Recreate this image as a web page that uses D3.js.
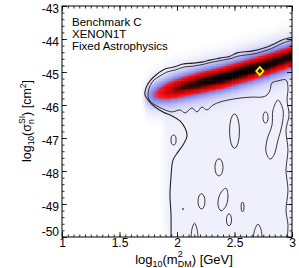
<!DOCTYPE html>
<html>
<head>
<meta charset="utf-8">
<script src="https://cdn.jsdelivr.net/npm/d3@7"></script>
<style>
body { margin: 0; background: #fff; }
svg text { font-family: "Liberation Sans", Arial, sans-serif; fill: #000; }
</style>
</head>
<body>
<svg id="chart" width="299" height="268"></svg>
<script>
// ridge of the posterior band (log10 m, log10 sigma)
var ridgeMass   = [1.70, 1.75, 1.80, 1.90, 2.00, 2.20, 2.40, 2.60, 2.80, 3.00];
var ridgeCentre = [-45.74, -45.72, -45.68, -45.58, -45.48, -45.31, -45.15, -44.95, -44.74, -44.51];
var ridgePeak   = [0, 0.22, 0.40, 0.62, 0.80, 0.95, 1.00, 1.00, 0.97, 0.93];
// faint plateau below the band
var floorMass  = [1.85, 1.93, 3.00];
var floorLevel = [0, 0.03, 0.03];

// benchmark point
var benchmark = [2.72, -44.97];

// outer contour
var outerContour = [[1.948,-50.05],[1.948,-49.33],[1.939,-48.73],[1.948,-48.18],[1.965,-47.67],[2.009,-47.42],
  [2.052,-47.21],[2.087,-46.94],[2.070,-46.70],[2.026,-46.48],[1.957,-46.33],[1.878,-46.21],[1.809,-46.06],
  [1.757,-45.88],[1.722,-45.70],[1.730,-45.48],[1.765,-45.27],[1.817,-45.09],[1.896,-44.91],[1.974,-44.85],
  [2.052,-44.76],[2.139,-44.73],[2.217,-44.70],[2.287,-44.64],[2.374,-44.58],[2.461,-44.52],[2.522,-44.42],
  [2.661,-44.36],[2.783,-44.24],[2.843,-44.15],[2.913,-44.03],[3.01,-43.94]];
// inner contour
var innerContour = [[3.01,-44.03],[2.922,-44.12],[2.852,-44.24],[2.791,-44.33],[2.670,-44.45],[2.530,-44.52],
  [2.470,-44.59],[2.383,-44.65],[2.296,-44.71],[2.226,-44.77],[2.148,-44.82],[2.061,-44.85],[1.983,-44.94],
  [1.913,-45.00],[1.852,-45.12],[1.800,-45.24],[1.765,-45.42],[1.748,-45.70],[1.765,-45.88],[1.826,-46.03],
  [1.896,-46.15],[1.957,-46.21],[2.026,-46.15],[2.070,-46.24],[2.130,-46.09],[2.174,-46.21],[2.217,-46.06],
  [2.261,-46.15],[2.313,-46.00],[2.374,-45.91],[2.443,-45.85],[2.548,-45.79],[2.652,-45.76],[2.739,-45.76],
  [2.783,-45.70],[2.809,-45.55],[2.826,-45.33],[2.878,-45.27],[2.948,-45.24],[2.965,-45.48],[2.957,-45.85],
  [2.974,-46.30],[2.948,-46.76],[2.965,-47.36],[2.948,-47.97],[2.965,-48.58],[2.948,-49.18],[2.965,-49.64],
  [2.957,-50.05]];
// small closed islands: centre mass, centre sigma, half width, half height
var islands = [[1.970,-47.06,0.022,0.15],[2.500,-46.79,0.043,0.52],[2.365,-47.89,0.035,0.26],
  [2.770,-46.38,0.022,0.17],[2.213,-48.92,0.030,0.23],[2.570,-49.09,0.013,0.15],[2.452,-49.48,0.022,0.18],
  [2.052,-49.15,0.004,0.02]];
var islandShapes = [
  [[2.878,-45.85],[2.922,-46.15],[2.913,-46.61],[2.878,-47.06],[2.843,-47.52],[2.809,-47.64],[2.774,-47.42],[2.783,-47.06],[2.826,-46.61],[2.835,-46.15]],
  [[2.426,-48.52],[2.443,-48.76],[2.426,-49.06],[2.383,-49.21],[2.357,-49.03],[2.374,-48.70]]
];
var arches = [
  [[2.122,-50.05],[2.130,-49.76],[2.152,-49.58],[2.174,-49.76],[2.183,-50.05]],
  [[2.661,-50.05],[2.678,-49.76],[2.704,-49.61],[2.730,-49.76],[2.739,-50.05]]
];

var xTicks = [1, 1.5, 2, 2.5, 3];
var yTicks = [-50, -49, -48, -47, -46, -45, -44, -43];
var notes = ["Benchmark C", "XENON1T", "Fixed Astrophysics"];

var margin = {top: 6, right: 7, bottom: 31, left: 62};
var w = 299 - margin.left - margin.right;
var h = 268 - margin.top - margin.bottom;

var svg = d3.select("#chart");
var g = svg.append("g").attr("transform", "translate(" + margin.left + "," + margin.top + ")");

var x = d3.scaleLinear().domain([1, 3]).range([0, w]);
var y = d3.scaleLinear().domain([-50, -43]).range([h, 0]);

svg.append("defs").append("clipPath").attr("id", "plotclip")
  .append("rect").attr("width", w).attr("height", h);

var plot = g.append("g").attr("clip-path", "url(#plotclip)");

// scales for the ridge
var centreAt = d3.scaleLinear().domain(ridgeMass).range(ridgeCentre).clamp(true);
var peakAt = d3.scaleLinear().domain(ridgeMass).range(ridgePeak).clamp(true);
var floorAt = d3.scaleLinear().domain(floorMass).range(floorLevel).clamp(true);

var colour = d3.scaleLinear()
  .domain([0, 0.03, 0.1, 0.22, 0.36, 0.48, 0.72, 0.9, 1])
  .range(["#ffffff", "#f0f0fc", "#d6d6f7", "#a8a8ef", "#7e7ee6", "#ff1010", "#c00000", "#300000", "#000000"])
  .clamp(true);

var dm = 0.02, ds = 0.05;
var cells = [];
d3.range(1, 3, dm).forEach(function(m) {
  var mc = m + dm / 2;
  var c = centreAt(mc), a = peakAt(mc), f = floorAt(mc);
  d3.range(-50, -43, ds).forEach(function(s) {
    var d = s + ds / 2 - c;
    var v = a * (0.72 * Math.exp(-d * d / (2 * 0.21 * 0.21)) + 0.28 * Math.exp(-d * d / (2 * 0.38 * 0.38)));
    if (d < 0) v += f;
    if (v > 0.004) cells.push({m: m, s: s, v: v});
  });
});

plot.append("g").selectAll("rect")
  .data(cells)
  .enter()
  .append("rect")
  .attr("x", function(d) { return x(d.m); })
  .attr("y", function(d) { return y(d.s + ds); })
  .attr("width", x(1 + dm) - x(1) + 0.5)
  .attr("height", y(-50) - y(-50 + ds) + 0.5)
  .attr("fill", function(d) { return colour(d.v); });

// contour lines
var openLine = d3.line().x(function(d) { return x(d[0]); }).y(function(d) { return y(d[1]); })
  .curve(d3.curveCatmullRom);
var loopLine = d3.line().x(function(d) { return x(d[0]); }).y(function(d) { return y(d[1]); })
  .curve(d3.curveCatmullRomClosed);
var lines = plot.append("g").attr("fill", "none").attr("stroke", "#222").attr("stroke-width", 0.9);

lines.append("path").attr("d", openLine(outerContour)).attr("stroke-width", 1.1);
lines.append("path").attr("d", openLine(innerContour));
arches.forEach(function(a) { lines.append("path").attr("d", openLine(a)); });
islandShapes.forEach(function(p) { lines.append("path").attr("d", loopLine(p)); });
lines.selectAll("ellipse")
  .data(islands)
  .enter()
  .append("ellipse")
  .attr("cx", function(d) { return x(d[0]); })
  .attr("cy", function(d) { return y(d[1]); })
  .attr("rx", function(d) { return x(d[0] + d[2]) - x(d[0]); })
  .attr("ry", function(d) { return y(d[1] - d[3]) - y(d[1]); });

// benchmark diamond
var bx = x(benchmark[0]), by = y(benchmark[1]);
g.append("path")
  .attr("d", "M" + bx + "," + (by - 4) + "L" + (bx + 3.5) + "," + by + "L" + bx + "," + (by + 4) + "L" + (bx - 3.5) + "," + by + "Z")
  .attr("fill", "none")
  .attr("stroke", "#ffff00")
  .attr("stroke-width", 1.8);

// axes
var xMinor = d3.range(1, 3.001, 0.05);
var yMinor = d3.range(-50, -42.999, 0.2);

function styleAxis(sel) {
  sel.select(".domain").remove();
  sel.selectAll("line").attr("stroke", "#000").attr("stroke-width", 0.8);
  sel.attr("font-family", null).attr("font-size", 12);
}

g.append("g").attr("transform", "translate(0," + h + ")")
  .call(d3.axisBottom(x).tickValues(xMinor).tickSize(-2.5).tickFormat(""))
  .call(styleAxis);
g.append("g")
  .call(d3.axisTop(x).tickValues(xMinor).tickSize(-2.5).tickFormat(""))
  .call(styleAxis);
g.append("g")
  .call(d3.axisLeft(y).tickValues(yMinor).tickSize(-2.5).tickFormat(""))
  .call(styleAxis);
g.append("g").attr("transform", "translate(" + w + ",0)")
  .call(d3.axisRight(y).tickValues(yMinor).tickSize(-2.5).tickFormat(""))
  .call(styleAxis);

g.append("g").attr("transform", "translate(0," + h + ")")
  .call(d3.axisBottom(x).tickValues(xTicks).tickSize(-5).tickPadding(1.5).tickFormat(d3.format("")))
  .call(styleAxis);
g.append("g")
  .call(d3.axisTop(x).tickValues(xTicks).tickSize(-5).tickFormat(""))
  .call(styleAxis);
var yAxis = g.append("g")
  .call(d3.axisLeft(y).tickValues(yTicks).tickSize(-5).tickPadding(3)
    .tickFormat(function(d) { return "-" + Math.abs(d); }))
  .call(styleAxis);
yAxis.selectAll("text").attr("dy", function(d) { return d === -50 ? "-0.1em" : "0.5em"; });
g.append("g").attr("transform", "translate(" + w + ",0)")
  .call(d3.axisRight(y).tickValues(yTicks).tickSize(-5).tickFormat(""))
  .call(styleAxis);

// frame
g.append("rect").attr("width", w).attr("height", h)
  .attr("fill", "none").attr("stroke", "#000").attr("stroke-width", 1);

// notes
g.selectAll(".note")
  .data(notes)
  .enter()
  .append("text")
  .attr("class", "note")
  .attr("x", 10)
  .attr("y", function(d, i) { return 20 + i * 11.8; })
  .attr("font-size", 11.5)
  .text(function(d) { return d; });

// x label
var xl = svg.append("text")
  .attr("x", 184)
  .attr("y", 264)
  .attr("text-anchor", "middle")
  .attr("font-size", 13);
xl.append("tspan").text("log");
xl.append("tspan").attr("font-size", 9).attr("dy", 3).text("10");
xl.append("tspan").attr("dy", -3).text("(m");
xl.append("tspan").attr("font-size", 9).attr("dy", 3).text("DM");
xl.append("tspan").attr("font-size", 9).attr("dx", -14).attr("dy", -10).text("2");
xl.append("tspan").attr("dx", 9).attr("dy", 7).text(") [GeV]");

// y label
var yl = svg.append("text")
  .attr("transform", "translate(31,121) rotate(-90)")
  .attr("text-anchor", "middle")
  .attr("font-size", 12.5);
yl.append("tspan").text("log");
yl.append("tspan").attr("font-size", 8.5).attr("dy", 3).text("10");
yl.append("tspan").attr("dy", -3).text("(\u03c3");
yl.append("tspan").attr("font-size", 8.5).attr("dy", 3).text("n");
yl.append("tspan").attr("font-size", 8.5).attr("dx", -4.7).attr("dy", -9).text("SI");
yl.append("tspan").attr("dy", 6).text(") [cm");
yl.append("tspan").attr("font-size", 8.5).attr("dy", -5).text("2");
yl.append("tspan").attr("dy", 5).text("]");
</script>
</body>
</html>
